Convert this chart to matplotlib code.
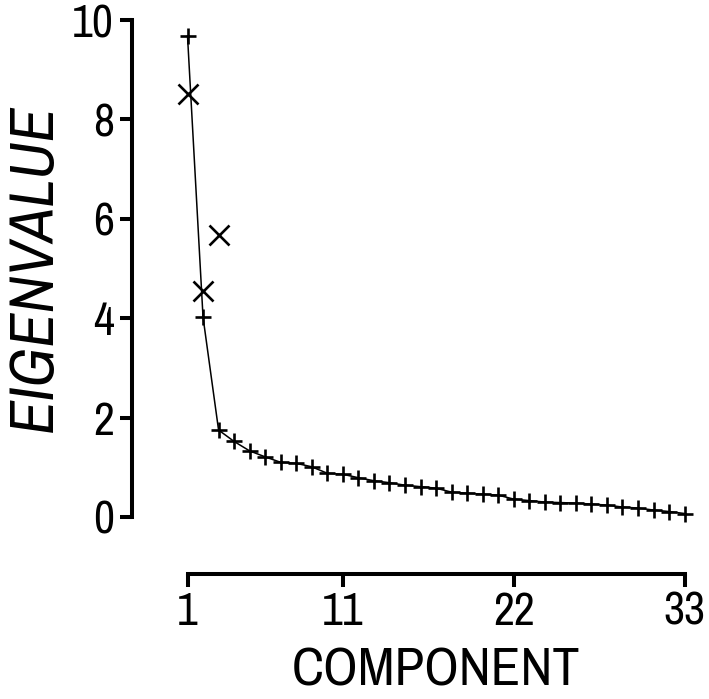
import matplotlib
matplotlib.use("Agg")
import matplotlib.pyplot as plt

components = list(range(1, 34))
eigenvalues = [9.68, 4.02, 1.75, 1.52, 1.33, 1.21, 1.10, 1.08, 1.01, 0.88,
               0.86, 0.79, 0.73, 0.69, 0.64, 0.61, 0.58, 0.50, 0.48, 0.46,
               0.44, 0.36, 0.33, 0.30, 0.29, 0.28, 0.26, 0.24, 0.20, 0.18,
               0.14, 0.11, 0.07]
x_marks_comp = [1, 2, 3]
x_marks_vals = [8.52, 4.55, 5.67]
xticks = [1, 11, 22, 33]
yticks = [0, 2, 4, 6, 8, 10]

plt.rcParams['font.family'] = ['Liberation Sans Narrow', 'Arial Narrow',
                               'Archivo Narrow', 'Liberation Sans', 'DejaVu Sans']

fig = plt.figure(figsize=(7.09, 6.99), dpi=100)
ax = fig.add_axes([187.5 / 709, (699 - 517) / 699, (684.6 - 187.5) / 709, 497 / 699])

ax.plot(components, eigenvalues, color='black', lw=1.1, marker='+', ms=12,
        mew=1.9, clip_on=False, zorder=3)
ax.plot(x_marks_comp, x_marks_vals, ls='none', color='black', marker='x',
        ms=15, mew=1.9, clip_on=False, zorder=3)

ax.set_xlim(1, 33)
ax.set_ylim(0, 10)
ax.set_xticks(xticks)
ax.set_yticks(yticks)

for s in ['top', 'right']:
    ax.spines[s].set_visible(False)
ax.spines['left'].set_position(('outward', 40))
ax.spines['bottom'].set_position(('outward', 41))
for s in ['left', 'bottom']:
    ax.spines[s].set_linewidth(2.9)
ax.tick_params(axis='both', which='major', length=9, width=2.9, labelsize=33,
               pad=4, direction='out')
ax.tick_params(axis='x', pad=3)

ax.set_xlabel('COMPONENT', fontsize=39, labelpad=10)
ax.set_ylabel('EIGENVALUE', fontsize=45, style='italic', labelpad=6)
ax.patch.set_visible(False)

fig.savefig('out.png', dpi=100)
